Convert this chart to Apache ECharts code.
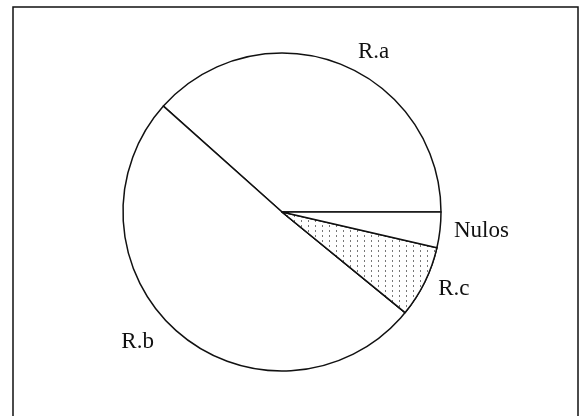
<!DOCTYPE html>
<html>
<head>
<meta charset="utf-8">
<script src="https://cdn.jsdelivr.net/npm/echarts@6/dist/echarts.min.js"></script>
<style>html,body{margin:0;padding:0;background:#fff}#c{width:581px;height:416px}</style>
</head>
<body>
<div id="c"></div>
<script>
const categories = ['R.a', 'R.b', 'R.c', 'Nulos'];
const values = [38.4, 50.7, 7.3, 3.6];
const lineLen1 = [12, 12, 15, 9];
const lineLen2 = [10, 12, 0, 0];
const labelGap = [5, 5, 0, 5];

const chart = echarts.init(document.getElementById('c'), null, {renderer: 'canvas'});
const data = categories.map((name, i) => {
  const item = {
    name: name,
    value: values[i],
    label: {distanceToLabelLine: labelGap[i]},
    labelLine: {show: false, length: lineLen1[i], length2: lineLen2[i]}
  };
  if (name === 'R.c') {
    item.itemStyle = {
      color: '#ffffff',
      decal: {symbol: 'rect', symbolSize: 1, color: '#777777', backgroundColor: '#ffffff',
              dashArrayX: [[1, 6]], dashArrayY: [2, 3], rotation: 0}
    };
  }
  return item;
});
chart.setOption({
  animation: false,
  backgroundColor: '#ffffff',
  graphic: [{
    type: 'rect',
    shape: {x: 13, y: 7, width: 565, height: 430},
    style: {fill: 'none', stroke: '#111', lineWidth: 1.5}
  }],
  series: [{
    type: 'pie',
    center: [282, 212],
    radius: 159,
    startAngle: 0,
    clockwise: false,
    avoidLabelOverlap: false,
    itemStyle: {color: '#ffffff', borderColor: '#111111', borderWidth: 1.5},
    label: {
      show: true,
      position: 'outside',
      formatter: '{b}',
      color: '#111',
      fontFamily: 'Liberation Serif',
      fontSize: 23
    },
    emphasis: {disabled: true},
    data: data
  }]
});
</script>
</body>
</html>
